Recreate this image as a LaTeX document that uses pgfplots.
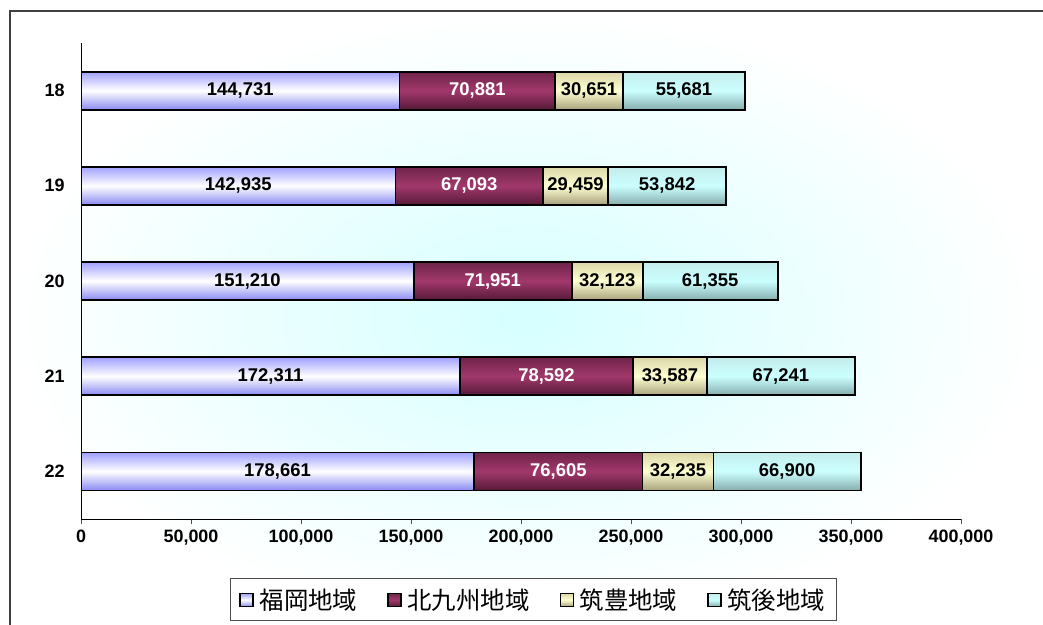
\documentclass[border=0pt]{standalone}
\usepackage{fontspec}
\setmainfont{Liberation Sans}
\newfontfamily\cjk{Noto Sans CJK JP}
\usepackage{pgfplots}
\pgfplotsset{compat=1.18}
\usepackage{pgfplotstable}

% values in thousands; labels as printed
\pgfplotstableread{
cat val lbl
0 144.731 144,731
1 142.935 142,935
2 151.210 151,210
3 172.311 172,311
4 178.661 178,661
}\fukuoka
\pgfplotstableread{
cat val lbl
0 70.881 70,881
1 67.093 67,093
2 71.951 71,951
3 78.592 78,592
4 76.605 76,605
}\kitakyu
\pgfplotstableread{
cat val lbl
0 30.651 30,651
1 29.459 29,459
2 32.123 32,123
3 33.587 33,587
4 32.235 32,235
}\chikuho
\pgfplotstableread{
cat val lbl
0 55.681 55,681
1 53.842 53,842
2 61.355 61,355
3 67.241 67,241
4 66.900 66,900
}\chikugo

\definecolor{fkTop}{HTML}{A0A0FF}
\definecolor{fkMid}{HTML}{FFFFFF}
\definecolor{fkBot}{HTML}{8A8AF2}
\definecolor{kqTop}{HTML}{6E2449}
\definecolor{kqMid}{HTML}{A2386C}
\definecolor{kqBot}{HTML}{561A38}
\definecolor{chTop}{HTML}{DAD6A8}
\definecolor{chMid}{HTML}{FFFFD2}
\definecolor{chBot}{HTML}{A8A27C}
\definecolor{cgTop}{HTML}{C4ECEC}
\definecolor{cgMid}{HTML}{CCFFFF}
\definecolor{cgBot}{HTML}{86AEAE}

\pgfplotsset{
  base/.style={
    anchor=south west, at={(81bp,106bp)},
    scale only axis, width=880bp, height=476bp,
    xbar stacked, bar width=38bp,
    xmin=0, xmax=400, ymin=-0.5, ymax=4.5,
    y dir=reverse,
    nodes near coords,
    point meta=explicit symbolic,
    every node near coord/.append style={anchor=center, font=\bfseries\fontsize{18.5}{20}\selectfont},
    every axis plot/.append style={draw=black, line width=1.8bp},
    unbounded coords=discard,
  },
  sfk/.style={top color=fkTop, bottom color=fkBot, middle color=fkMid},
  skq/.style={top color=kqTop, bottom color=kqBot, middle color=kqMid, every node near coord/.append style={text=white}},
  sch/.style={top color=chTop, bottom color=chBot, middle color=chMid},
  scg/.style={top color=cgTop, bottom color=cgBot, middle color=cgMid},
}
% #1,#2: the y range that holds one category
\newcommand{\catplots}[2]{%
  \addplot[sfk, restrict y to domain=#1:#2] table[y=cat, x=val, meta=lbl] {\fukuoka};
  \addplot[skq, restrict y to domain=#1:#2] table[y=cat, x=val, meta=lbl] {\kitakyu};
  \addplot[sch, restrict y to domain=#1:#2] table[y=cat, x=val, meta=lbl] {\chikuho};
  \addplot[scg, restrict y to domain=#1:#2] table[y=cat, x=val, meta=lbl] {\chikugo};
}

\begin{document}
\begin{tikzpicture}
\path[use as bounding box] (0,0) rectangle (1043bp,625bp);
\shade[shading=radial, inner color=cyan!16, outer color=white] (10bp,0) rectangle (1043bp,614bp);
\draw[black!75, line width=1.2bp] (10bp,0) -- (10bp,614bp) -- (1043bp,614bp);
\begin{axis}[base,
  axis x line*=bottom, axis y line*=left,
  axis line style={-, line width=1bp},
  xtick={0,50,100,150,200,250,300,350,400},
  xticklabels={0,{50,000},{100,000},{150,000},{200,000},{250,000},{300,000},{350,000},{400,000}},
  ytick={0,1,2,3,4},
  yticklabels={18,19,20,21,22},
  xtick align=outside, major tick length=5bp,
  xtick style={line width=0.8bp, black!70},
  ytick style={draw=none},
  tick label style={font=\bfseries\fontsize{18}{20}\selectfont},
  yticklabel style={xshift=-13bp},
  xticklabel style={yshift=-2bp},
  legend columns=4,
  legend style={at={(0.514,-0.17)}, anchor=center, draw=black!70, fill=white,
    font=\cjk\fontsize{24.5}{26}\selectfont, line width=1bp,
    inner xsep=9bp, inner ysep=8bp,
    /tikz/every odd column/.append style={column sep=4bp},
    /tikz/every even column/.append style={column sep=28bp}},
  legend image code/.code={\draw[#1, line width=1.2bp] (0bp,-6.5bp) rectangle (13bp,6.5bp);},
]
\catplots{-0.2}{0.2}
\legend{福岡地域,北九州地域,筑豊地域,筑後地域}
\end{axis}
\begin{axis}[base, hide axis]
\catplots{0.8}{1.2}
\end{axis}
\begin{axis}[base, hide axis]
\catplots{1.8}{2.2}
\end{axis}
\begin{axis}[base, hide axis]
\catplots{2.8}{3.2}
\end{axis}
\begin{axis}[base, hide axis]
\catplots{3.8}{4.2}
\end{axis}
\end{tikzpicture}
\end{document}
